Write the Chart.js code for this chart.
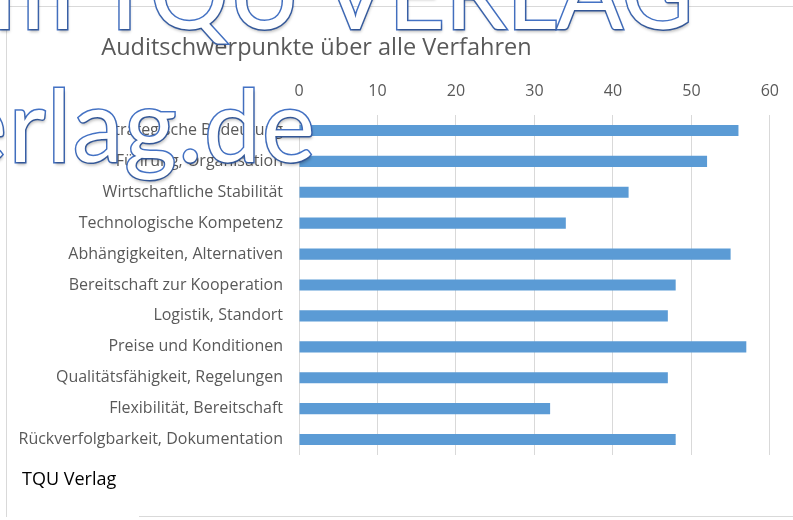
<!DOCTYPE html>
<html>
<head>
<meta charset="utf-8">
<script src="https://cdn.jsdelivr.net/npm/chart.js@4/dist/chart.umd.min.js"></script>
<style>
  html, body { margin:0; padding:0; background:#fff; }
  #wrap { position:relative; width:793px; height:520px; overflow:hidden; font-family: "Open Sans", sans-serif; }
  #frame { position:absolute; left:6px; top:6px; width:800px; height:510px; border-left:1px solid #d9d9d9; border-top:1px solid #d9d9d9; }
  #frameBottom { position:absolute; left:139px; top:516px; width:660px; height:0; border-top:1px solid #d9d9d9; }
  #chart { position:absolute; left:0; top:0; }
  #title { position:absolute; left:0; width:633px; top:30px; text-align:center; font-size:23.5px; color:#595959; line-height:32px; }
  #source { position:absolute; left:22px; top:465px; font-size:18px; color:#000; line-height:26px; }
  .wm { position:absolute; white-space:nowrap; font-family: Lato, sans-serif; font-weight:400; color:#fff;
        -webkit-text-stroke: 3px #4472C4; paint-order: stroke fill;
        text-shadow: 1px 3px 3px rgba(0,0,0,0.25); }
  #wm1 { right:100px; top:-74px; font-size:98px; line-height:130px; }
  #wm2 { right:476px; top:58px; font-size:100px; line-height:130px; letter-spacing:2px; }
</style>
</head>
<body>
<div id="wrap">
  <div id="frame"></div>
  <div id="frameBottom"></div>
  <canvas id="chart" width="793" height="520"></canvas>
  <div id="title">Auditschwerpunkte über alle Verfahren</div>
  <div id="source">TQU Verlag</div>
  <div class="wm" id="wm1">Dokument vom TQU VERLAG</div>
  <div class="wm" id="wm2">www.tqu-verlag.de</div>
</div>
<script>
// Kategorien (von oben nach unten)
const categories = [
    "Strategische Bedeutung",
    "Führung, Organisation",
    "Wirtschaftliche Stabilität",
    "Technologische Kompetenz",
    "Abhängigkeiten, Alternativen",
    "Bereitschaft zur Kooperation",
    "Logistik, Standort",
    "Preise und Konditionen",
    "Qualitätsfähigkeit, Regelungen",
    "Flexibilität, Bereitschaft",
    "Rückverfolgbarkeit, Dokumentation"
];
const values = [56, 52, 42, 34, 55, 48, 47, 57, 47, 32, 48];
const xTicks = [0, 10, 20, 30, 40, 50, 60];

const BAR_COLOR = '#5B9BD5';
const GRID_COLOR = '#d9d9d9';
const TEXT_COLOR = '#595959';
const FONT = '"Open Sans", sans-serif';

function startChart() {
    const ctx = document.getElementById('chart').getContext('2d');
    new Chart(ctx, {
        type: 'bar',
        data: {
            labels: categories,
            datasets: [{
                label: 'Anzahl',
                data: values,
                backgroundColor: BAR_COLOR,
                barPercentage: 0.36,
                categoryPercentage: 1
            }]
        },
        options: {
            indexAxis: 'y',
            responsive: false,
            animation: false,
            layout: { padding: { left: 10, right: 20, top: 60, bottom: 65 } },
            plugins: { legend: { display: false }, tooltip: { enabled: false } },
            scales: {
                x: {
                    position: 'top',
                    min: 0, max: 60,
                    afterBuildTicks: s => { s.ticks = xTicks.map(v => ({ value: v })); },
                    afterFit: s => { s.height = 55; },
                    grid: { color: GRID_COLOR, drawTicks: false },
                    border: { display: false },
                    ticks: { color: TEXT_COLOR, padding: 14, font: { family: FONT, size: 16 } }
                },
                y: {
                    afterFit: s => { s.width = 289; },
                    grid: { display: false },
                    border: { display: false },
                    ticks: { color: TEXT_COLOR, padding: 8, font: { family: FONT, size: 16 } }
                }
            }
        }
    });
}

document.addEventListener('DOMContentLoaded', startChart);
</script>
</body>
</html>
